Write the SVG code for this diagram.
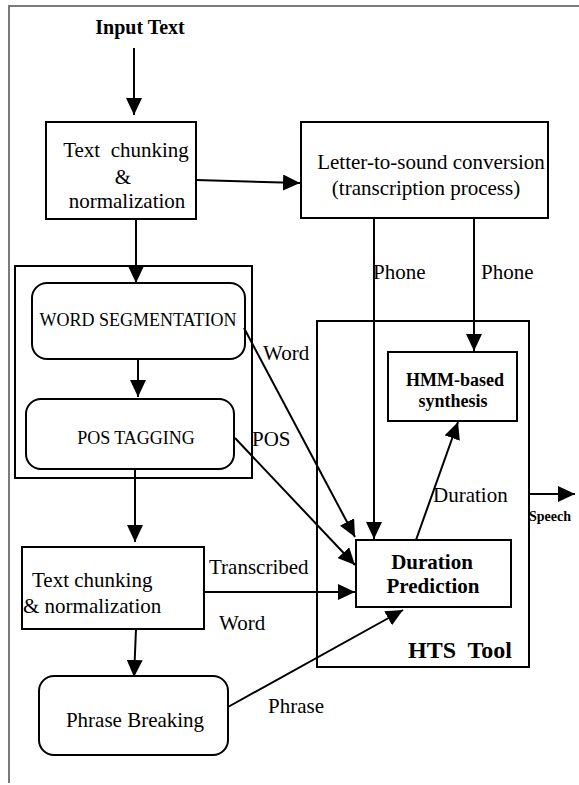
<svg xmlns="http://www.w3.org/2000/svg" width="579" height="785" viewBox="0 0 579 785">
<style>
.box{fill:#fff;stroke:#000;stroke-width:2}
.ln{fill:none;stroke:#000;stroke-width:2}
.t{font-family:"Liberation Serif","Times New Roman",serif;font-size:21px;fill:#000}
.s{font-family:"Liberation Serif","Times New Roman",serif;font-size:18px;fill:#000}
.b{font-family:"Liberation Serif","Times New Roman",serif;font-weight:bold;fill:#000}
</style>
<defs>
<marker id="ah" markerUnits="userSpaceOnUse" markerWidth="17" markerHeight="16" refX="17" refY="8" orient="auto">
<path d="M0,0 L17,8 L0,16 z" fill="#000"/>
</marker>
</defs>
<rect width="579" height="785" fill="#fff"/>
<g id="frame">
<path d="M579,6 L9,6 L9,783" fill="none" stroke="#7a7a7a" stroke-width="2"/>
</g>
<g id="input">
<text class="b" x="140" y="34" font-size="20" text-anchor="middle">Input Text</text>
</g>
<g id="chunk1">
<rect class="box" x="46" y="122" width="150" height="97"/>
<text class="t" x="126" y="157" text-anchor="middle" xml:space="preserve">Text  chunking</text>
<text class="t" x="123" y="184" text-anchor="middle">&amp;</text>
<text class="t" x="127" y="208" text-anchor="middle">normalization</text>
</g>
<g id="lts">
<rect class="box" x="301" y="122" width="247" height="96"/>
<text class="t" x="431" y="169" text-anchor="middle">Letter-to-sound conversion</text>
<text class="t" x="426" y="195" text-anchor="middle">(transcription process)</text>
</g>
<g id="nlp-group">
<rect class="box" x="15" y="266" width="237" height="212"/>
</g>
<g id="wordseg">
<rect class="box" x="32" y="283" width="213" height="76" rx="15"/>
<text class="s" x="138" y="326" text-anchor="middle">WORD SEGMENTATION</text>
</g>
<g id="postag">
<rect class="box" x="26" y="399" width="208" height="70" rx="15"/>
<text class="s" x="136" y="444" text-anchor="middle">POS TAGGING</text>
</g>
<g id="chunk2">
<rect class="box" x="22" y="547" width="182" height="82"/>
<text class="t" x="32" y="587">Text chunking</text>
<text class="t" x="23" y="613">&amp; normalization</text>
</g>
<g id="phrase">
<rect class="box" x="39" y="676" width="189" height="79" rx="15"/>
<text class="t" x="135" y="727" text-anchor="middle">Phrase Breaking</text>
</g>
<g id="hts">
<rect class="box" x="317" y="321" width="212" height="346"/>
<text class="b" x="460" y="658" font-size="24" text-anchor="middle" xml:space="preserve">HTS  Tool</text>
</g>
<g id="hmm">
<rect class="box" x="388" y="352" width="129" height="69"/>
<text class="b" x="455" y="386" font-size="18" text-anchor="middle">HMM-based</text>
<text class="b" x="453" y="407" font-size="18" text-anchor="middle">synthesis</text>
</g>
<g id="duration">
<rect class="box" x="356" y="540" width="155" height="67"/>
<text class="b" x="432" y="569" font-size="21" text-anchor="middle">Duration</text>
<text class="b" x="433" y="593" font-size="21" text-anchor="middle">Prediction</text>
</g>
<g id="connectors">
<line class="ln" x1="134" y1="48" x2="134" y2="115" marker-end="url(#ah)"/>
<line class="ln" x1="196" y1="180" x2="300" y2="183" marker-end="url(#ah)"/>
<line class="ln" x1="136" y1="219" x2="136" y2="283" marker-end="url(#ah)"/>
<line class="ln" x1="138" y1="359" x2="138" y2="397" marker-end="url(#ah)"/>
<line class="ln" x1="135" y1="469" x2="135" y2="542" marker-end="url(#ah)"/>
<line class="ln" x1="136" y1="629" x2="134" y2="677" marker-end="url(#ah)"/>
<line class="ln" x1="374" y1="218" x2="374" y2="539" marker-end="url(#ah)"/>
<line class="ln" x1="474" y1="218" x2="474" y2="351" marker-end="url(#ah)"/>
<line class="ln" x1="244" y1="328" x2="355" y2="537" marker-end="url(#ah)"/>
<line class="ln" x1="235" y1="438" x2="355" y2="565" marker-end="url(#ah)"/>
<line class="ln" x1="204" y1="592" x2="355" y2="592" marker-end="url(#ah)"/>
<line class="ln" x1="228" y1="707" x2="403" y2="610" marker-end="url(#ah)"/>
<line class="ln" x1="416" y1="540" x2="458" y2="422" marker-end="url(#ah)"/>
<line class="ln" x1="529" y1="494" x2="575" y2="494" marker-end="url(#ah)"/>
<text class="t" x="373" y="279">Phone</text>
<text class="t" x="481" y="279">Phone</text>
<text class="t" x="263" y="360">Word</text>
<text class="t" x="252" y="446">POS</text>
<text class="t" x="209" y="574">Transcribed</text>
<text class="t" x="219" y="630">Word</text>
<text class="t" x="268" y="713">Phrase</text>
<text class="t" x="433" y="502">Duration</text>
<text class="b" x="529" y="521" font-size="14">Speech</text>
</g>
</svg>
